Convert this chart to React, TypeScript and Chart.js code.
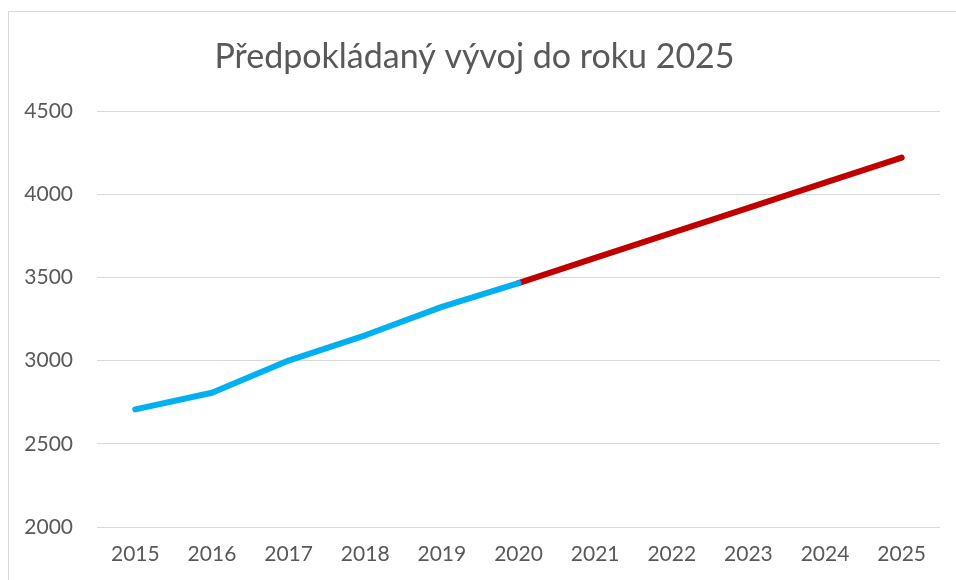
import React, { useEffect, useRef } from "react";
import { Chart, registerables } from "chart.js";

Chart.register(...registerables);

const years = ["2015", "2016", "2017", "2018", "2019", "2020", "2021", "2022", "2023", "2024", "2025"];
const actual = [2707, 2807, 3000, 3152, 3323, 3466, null, null, null, null, null];
const forecast = [null, null, null, null, null, 3466, 3617, 3768, 3918, 4069, 4220];
const titleText = "Předpokládaný vývoj do roku 2025";

const FONT = "Lato, 'Open Sans', sans-serif";
const TEXT = "#595959";
const GRID = "#d9d9d9";

export default function App() {
  const ref = useRef<HTMLCanvasElement>(null);

  useEffect(() => {
    document.documentElement.style.overflow = "hidden";
    document.body.style.margin = "0";
    const ctx = ref.current!;
    const chart = new Chart(ctx, {
      type: "line",
      data: {
        labels: years,
        datasets: [
          {
            data: actual,
            borderColor: "#00B0F0",
            borderWidth: 6,
            borderCapStyle: "round",
            borderJoinStyle: "round",
            pointRadius: 0,
            tension: 0,
            spanGaps: false,
          },
          {
            data: forecast,
            borderColor: "#C00000",
            borderWidth: 6,
            borderCapStyle: "round",
            borderJoinStyle: "round",
            pointRadius: 0,
            tension: 0,
            spanGaps: false,
          },
        ],
      },
      options: {
        animation: false,
        responsive: false,
        maintainAspectRatio: false,
        layout: { padding: { left: 0, right: 16, top: 0, bottom: 0 } },
        plugins: {
          legend: { display: false },
          tooltip: { enabled: false },
          title: {
            display: true,
            text: titleText,
            color: TEXT,
            font: { family: FONT, size: 34, weight: "normal" },
            padding: { top: 24.6, bottom: 33.6 },
          },
        },
        scales: {
          x: {
            offset: true,
            grid: { display: false, drawTicks: false },
            border: { display: false },
            ticks: {
              color: TEXT,
              font: { family: FONT, size: 21 },
              padding: 15,
              maxRotation: 0,
              autoSkip: false,
            },
            afterFit: (s: any) => {
              s.height = 45;
            },
          },
          y: {
            min: 2000,
            max: 4500,
            grid: { color: GRID, lineWidth: 1, drawTicks: false },
            border: { display: false },
            ticks: {
              stepSize: 500,
              color: TEXT,
              font: { family: FONT, size: 21 },
              padding: 24,
              callback: (v: any) => String(v),
            },
            afterFit: (s: any) => {
              s.width = 88;
            },
          },
        },
      },
    });
    return () => chart.destroy();
  }, []);

  return (
    <div
      style={{
        position: "fixed",
        left: 0,
        top: 0,
        width: "100vw",
        height: "100vh",
        background: "#fff",
        overflow: "hidden",
      }}
    >
      <div
        style={{
          position: "absolute",
          left: 8,
          top: 11,
          borderTop: "1px solid #d9d9d9",
          borderLeft: "1px solid #d9d9d9",
          width: 1000,
          height: 600,
        }}
      >
        <canvas ref={ref} width={947} height={560} style={{ display: "block" }} />
      </div>
    </div>
  );
}
